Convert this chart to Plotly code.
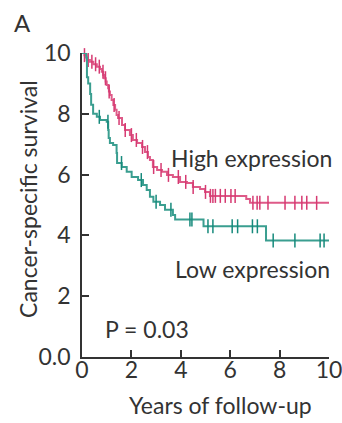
import numpy as np
import plotly.graph_objects as go

# ---- data ----
high_x = [0, 0.1, 0.19, 0.32, 0.46, 0.6, 0.73, 0.8, 0.86, 0.9, 0.96, 1.0, 1.06, 1.09, 1.13, 1.2,
          1.27, 1.34, 1.4, 1.46, 1.62, 1.74, 1.94, 2.06, 2.23, 2.43, 2.55, 2.67, 2.75, 2.87,
          3.04, 3.24, 3.44, 3.68, 3.97, 4.25, 4.49, 4.78, 4.98, 5.18, 6.65, 6.8, 10]
high_y = [10, 9.93, 9.77, 9.71, 9.63, 9.55, 9.47, 9.38, 9.28, 9.17, 9.06, 8.95, 8.84, 8.73, 8.62, 8.45,
          8.29, 8.13, 7.96, 7.86, 7.63, 7.47, 7.3, 7.14, 7.04, 6.91, 6.74, 6.58, 6.48, 6.25,
          6.15, 6.09, 5.99, 5.92, 5.76, 5.72, 5.59, 5.53, 5.43, 5.3, 5.2, 5.07, 5.07]
high_censor = [0.1, 0.25, 0.4, 0.55, 0.7, 0.85, 0.95, 1.1, 1.3, 1.5, 1.75, 2.0, 2.2, 2.45, 2.65,
               2.9, 3.2, 3.5, 3.9, 4.2, 4.5, 5.0, 5.2, 5.3, 5.4, 5.6, 5.8, 6.03, 6.2,
               6.92, 7.09, 7.2, 7.53, 8.22, 8.62, 8.9, 9.1, 9.5]

low_x = [0, 0.17, 0.2, 0.25, 0.33, 0.37, 0.45, 0.6, 0.73, 1.0, 1.06, 1.08, 1.13, 1.26, 1.4, 1.42,
         1.61, 1.81, 2.01, 2.27, 2.47, 2.62, 2.75, 2.89, 3.16, 3.36, 3.68, 3.77, 4.92, 7.45, 10]
low_y = [10, 9.85, 9.2, 9.0, 8.65, 8.3, 8.0, 7.9, 7.8, 7.74, 7.47, 7.2, 7.04, 6.97, 6.71, 6.38,
         6.25, 6.09, 5.92, 5.82, 5.66, 5.49, 5.27, 5.11, 5.0, 4.84, 4.67, 4.52, 4.3, 3.83, 3.83]
low_censor = [0.7, 1.05, 1.6, 2.4, 3.0, 3.6, 4.37, 4.45, 5.1, 5.3, 6.08, 6.3, 6.9, 7.1,
              7.74, 8.62, 9.64, 9.8]

x_ticks = [0, 2, 4, 6, 8, 10]
y_ticks = [0, 2, 4, 6, 8, 10]
y_tick_text = ["0.0", "2", "4", "6", "8", "10"]

PINK = "#d63a72"
PINK_LINE = "#de5a88"
TEAL = "#168a7c"
TEAL_LINE = "#3a9e90"
INK = "#333333"
FONT = "Lato"
FS = 23


def step_at(xs, ys, x):
    i = np.searchsorted(np.array(xs), x, side="right") - 1
    return ys[max(i, 0)]


fig = go.Figure()
for xs, ys, cens, lc, mc in [(high_x, high_y, high_censor, PINK_LINE, PINK),
                             (low_x, low_y, low_censor, TEAL_LINE, TEAL)]:
    fig.add_trace(go.Scatter(x=xs, y=ys, mode="lines", line=dict(color=lc, width=2, shape="hv"),
                             cliponaxis=False, showlegend=False, hoverinfo="skip"))
    fig.add_trace(go.Scatter(x=cens, y=[step_at(xs, ys, c) for c in cens], mode="markers",
                             marker=dict(symbol="line-ns", size=10, line=dict(color=mc, width=1.5)),
                             cliponaxis=False, showlegend=False, hoverinfo="skip"))

tf = dict(size=FS, family=FONT, color=INK)
fig.update_layout(
    width=342, height=423,
    margin=dict(l=82, r=13, t=53, b=66, autoexpand=False),
    paper_bgcolor="white", plot_bgcolor="white",
    font=tf,
    xaxis=dict(range=[0, 10], tickvals=x_ticks, ticks="inside", ticklen=7, tickwidth=1.5,
               tickcolor=INK, showline=True, linecolor=INK, linewidth=1.5, showgrid=False,
               zeroline=False, tickfont=tf, ticklabeloverflow="allow", automargin=False,
               ticklabelstandoff=-8),
    yaxis=dict(range=[0, 10], tickvals=y_ticks, ticktext=y_tick_text, ticks="inside", ticklen=7,
               tickwidth=1.5, tickcolor=INK, showline=True, linecolor=INK, linewidth=1.5,
               showgrid=False, zeroline=False, tickfont=tf, ticklabelstandoff=5, automargin=False),
    annotations=[
        dict(text="A", xref="paper", yref="paper", x=0, xshift=-60, y=1, yshift=31,
             xanchor="center", yanchor="middle", showarrow=False,
             font=dict(size=24, family=FONT, color=INK)),
        dict(text="High expression", xref="x", yref="y", x=6.88, y=6.55, showarrow=False, font=tf),
        dict(text="Low expression", xref="x", yref="y", x=6.9, y=2.9, showarrow=False, font=tf),
        dict(text="P = 0.03", xref="x", yref="y", x=2.62, y=0.92, showarrow=False, font=tf),
        dict(text="Years of follow-up", xref="x", yref="paper", x=5.59, y=0, yshift=-48,
             xanchor="center", yanchor="middle", showarrow=False, font=tf),
        dict(text="Cancer-specific survival", xref="paper", yref="y", x=0, xshift=-54, y=5.2,
             textangle=-90, xanchor="center", yanchor="middle", showarrow=False, font=tf),
    ],
)

# remove the browser's default 8px page margin so the 342x423 figure fills the window exactly
fig.write_html("out.html", config={"displayModeBar": False},
               post_script="document.body.style.margin='0';document.body.style.overflow='hidden';")
